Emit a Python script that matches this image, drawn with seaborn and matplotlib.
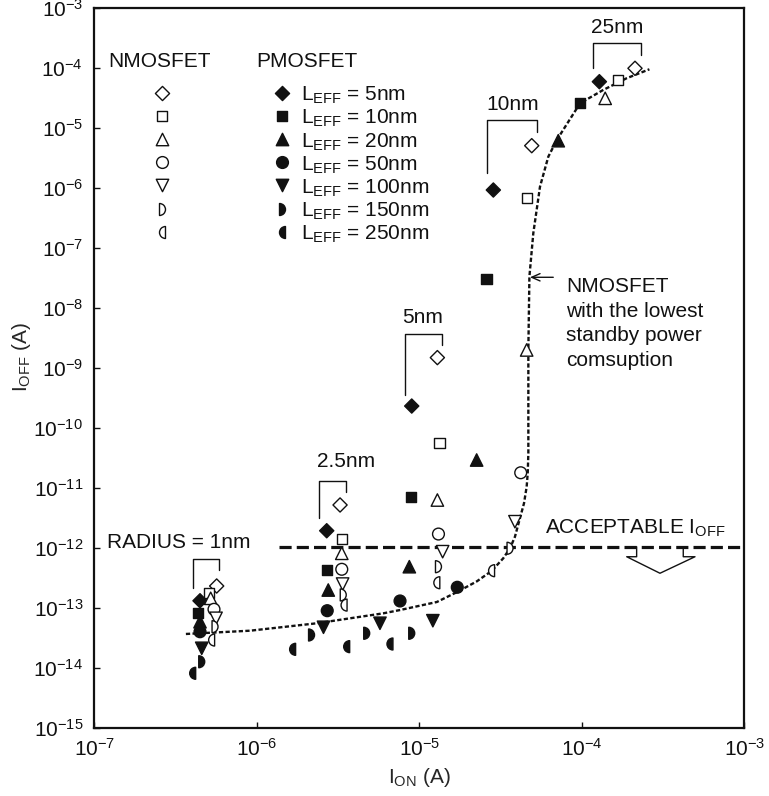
import matplotlib
matplotlib.use("Agg")
import numpy as np
import pandas as pd
import matplotlib.pyplot as plt
import seaborn as sns
from matplotlib.path import Path
from matplotlib.markers import MarkerStyle
from matplotlib.ticker import NullLocator, FixedLocator

# ---------------- data ----------------
L_EFF = [5, 10, 20, 50, 100, 150, 250]          # nm
RADII = ["1nm", "2.5nm", "5nm", "10nm", "25nm"]

r1_nmos_ion = [5.66e-7, 5.10e-7, 5.20e-7, 5.45e-7, 5.61e-7, 5.53e-7, 5.27e-7]
r1_nmos_ioff = [2.31e-13, 1.75e-13, 1.44e-13, 9.44e-14, 6.68e-14, 4.84e-14, 2.90e-14]
r1_pmos_ion = [4.47e-7, 4.36e-7, 4.47e-7, 4.47e-7, 4.58e-7, 4.58e-7, 4.03e-7]
r1_pmos_ioff = [1.31e-13, 8.28e-14, 5.86e-14, 3.99e-14, 2.11e-14, 1.26e-14, 8.09e-15]

r2_nmos_ion = [3.25e-6, 3.33e-6, 3.33e-6, 3.33e-6, 3.37e-6, 3.40e-6, 3.44e-6]
r2_nmos_ioff = [5.19e-12, 1.39e-12, 8.11e-13, 4.39e-13, 2.49e-13, 1.64e-13, 1.11e-13]
r2_pmos_ion = [2.69e-6, 2.71e-6, 2.75e-6, 2.71e-6, 2.57e-6, 2.17e-6, 1.66e-6]
r2_pmos_ioff = [1.93e-12, 4.27e-13, 1.98e-13, 8.95e-14, 4.73e-14, 3.52e-14, 2.03e-14]

r5_nmos_ion = [1.29e-5, 1.33e-5, 1.29e-5, 1.31e-5, 1.39e-5, 1.31e-5, 1.28e-5]
r5_nmos_ioff = [1.49e-9, 5.55e-11, 6.28e-12, 1.70e-12, 8.63e-13, 4.85e-13, 2.62e-13]
r5_pmos_ion = [8.97e-6, 8.84e-6, 8.67e-6, 7.60e-6, 5.72e-6, 4.74e-6, 3.57e-6]
r5_pmos_ioff = [2.32e-10, 7.13e-12, 4.85e-13, 1.30e-13, 5.52e-14, 3.76e-14, 2.25e-14]

r10_nmos_ion = [4.91e-5, 4.61e-5, 4.57e-5, 4.20e-5, 3.87e-5, 3.61e-5, 2.78e-5]
r10_nmos_ioff = [5.11e-6, 6.93e-7, 2.0e-9, 1.79e-11, 2.73e-12, 9.84e-13, 4.16e-13]
r10_pmos_ion = [2.85e-5, 2.59e-5, 2.25e-5, 1.71e-5, 1.21e-5, 8.97e-6, 6.59e-6]
r10_pmos_ioff = [9.31e-7, 3.02e-8, 2.92e-11, 2.20e-13, 6.09e-14, 3.76e-14, 2.49e-14]

r25_nmos_ion = [2.12e-4, 1.67e-4, 1.39e-4]
r25_nmos_ioff = [9.98e-5, 6.37e-5, 3.15e-5]
r25_pmos_ion = [1.28e-4, 9.73e-5, 7.15e-5]
r25_pmos_ioff = [5.97e-5, 2.60e-5, 6.19e-6]

# NMOSFET with the lowest standby power consumption (dotted curve)
curve_ion = [3.66e-7, 9.08e-7, 2.34e-6, 6.00e-6, 7.60e-6, 1.28e-5, 1.71e-5, 2.25e-5,
             2.78e-5, 3.28e-5, 3.61e-5, 3.87e-5, 4.10e-5, 4.40e-5, 4.57e-5, 4.64e-5,
             4.68e-5, 4.68e-5, 4.68e-5, 4.75e-5, 5.02e-5, 5.52e-5, 6.21e-5, 7.00e-5,
             9.73e-5, 1.35e-4, 1.88e-4, 2.60e-4]
curve_ioff = [3.66e-14, 4.15e-14, 5.52e-14, 8.09e-14, 9.18e-14, 1.25e-13, 1.84e-13, 2.75e-13,
              4.11e-13, 6.70e-13, 9.84e-13, 1.53e-12, 2.73e-12, 5.53e-12, 1.05e-11, 1.79e-11,
              3.78e-11, 1.36e-10, 2.0e-9, 3.33e-8, 1.77e-7, 1.06e-6, 3.35e-6, 6.35e-6,
              2.60e-5, 4.34e-5, 6.80e-5, 9.61e-5]

ACCEPTABLE_IOFF = 1.05e-12
ACCEPT_LINE_START = 1.36e-6

# bracket annotations: radius label, x-left, x-right, y-top, y-left-bottom, y-right-bottom
bracket_labels = ["RADIUS = 1nm", "2.5nm", "5nm", "10nm", "25nm"]
bracket_xl = [4.03e-7, 2.41e-6, 8.15e-6, 2.62e-5, 1.17e-4]
bracket_xr = [5.88e-7, 3.54e-6, 1.37e-5, 5.31e-5, 2.30e-4]
bracket_top = [6.44e-13, 1.32e-11, 3.69e-9, 1.37e-5, 2.67e-4]
bracket_lb = [2.11e-13, 3.15e-12, 3.55e-10, 1.79e-6, 9.98e-5]
bracket_rb = [4.27e-13, 8.65e-12, 2.42e-9, 8.74e-6, 1.66e-4]
label_x = [9.08e-7, 3.52e-6, 1.05e-5, 3.73e-5, 1.64e-4]
label_y = [9.84e-13, 2.26e-11, 5.57e-9, 2.01e-5, 3.83e-4]

# ---------------- build table ----------------
groups = {
    "1nm": (r1_nmos_ion, r1_nmos_ioff, r1_pmos_ion, r1_pmos_ioff),
    "2.5nm": (r2_nmos_ion, r2_nmos_ioff, r2_pmos_ion, r2_pmos_ioff),
    "5nm": (r5_nmos_ion, r5_nmos_ioff, r5_pmos_ion, r5_pmos_ioff),
    "10nm": (r10_nmos_ion, r10_nmos_ioff, r10_pmos_ion, r10_pmos_ioff),
    "25nm": (r25_nmos_ion, r25_nmos_ioff, r25_pmos_ion, r25_pmos_ioff),
}
rows = []
for rad, (ni, no, pi, po) in groups.items():
    for L, a, b in zip(L_EFF, ni, no):
        rows.append(dict(radius=rad, device="NMOSFET", L=L, ion=a, ioff=b))
    for L, a, b in zip(L_EFF, pi, po):
        rows.append(dict(radius=rad, device="PMOSFET", L=L, ion=a, ioff=b))
df = pd.DataFrame(rows)
curve_df = pd.DataFrame({"ion": curve_ion, "ioff": curve_ioff})

# ---------------- style ----------------
sns.set_theme(style="white")
plt.rcParams.update({
    "font.family": ["Liberation Sans", "DejaVu Sans"],
    "mathtext.fontset": "custom",
    "mathtext.rm": "Liberation Sans",
    "mathtext.it": "Liberation Sans:italic",
    "mathtext.bf": "Liberation Sans:bold",
    "mathtext.default": "regular",
    "axes.edgecolor": "#111111",
    "text.color": "#111111",
    "xtick.color": "#111111",
    "ytick.color": "#111111",
})
FS = 15


def half_circle(side):
    arc = Path.arc(-90, 90)
    v = np.vstack([arc.vertices, [0.0, 0.0]])
    codes = list(arc.codes) + [Path.CLOSEPOLY]
    v[:, 0] -= 0.5
    if side == "left":
        v[:, 0] *= -1
    return Path(v, codes)


markers = {5: "D", 10: "s", 20: "^", 50: "o", 100: "v",
           150: MarkerStyle(half_circle("right")),
           250: MarkerStyle(half_circle("left"))}
sizes = {5: 52, 10: 54, 20: 80, 50: 72, 100: 80, 150: 74, 250: 74}

fig = plt.figure(figsize=(7.69, 7.96), dpi=100)
ax = fig.add_axes([0.12263, 0.08580, 0.84551, 0.90377])
ax.set_xscale("log")
ax.set_yscale("log")

# curve and acceptable line
sns.lineplot(data=curve_df, x="ion", y="ioff", sort=False, estimator=None, ax=ax,
             color="#111111", lw=1.7, linestyle=(0, (1.8, 1.0)), zorder=2)
ax.hlines(ACCEPTABLE_IOFF, ACCEPT_LINE_START, 1e-3, colors="#111111",
          linewidth=2.3, linestyles=(0, (3.8, 1.6)), zorder=2, clip_on=False)

common = dict(x="ion", y="ioff", style="L", size="L", markers=markers, sizes=sizes,
              legend=False, ax=ax, linewidth=1.0)
sns.scatterplot(data=df[df.device == "PMOSFET"], color="#111111", edgecolor="#111111",
                zorder=3, **common)
sns.scatterplot(data=df[df.device == "NMOSFET"], color="white", edgecolor="#111111",
                zorder=4, **common)

# brackets
for lab, xl, xr, yt, ylb, yrb, tx, ty in zip(bracket_labels, bracket_xl, bracket_xr,
                                              bracket_top, bracket_lb, bracket_rb,
                                              label_x, label_y):
    ax.plot([xl, xl, xr, xr], [ylb, yt, yt, yrb], color="#111111", lw=1.0, zorder=3)
    ha = "right" if lab.startswith("RADIUS") else "center"
    ax.text(tx, ty, lab, ha=ha, va="baseline", fontsize=FS)

# acceptable I_OFF label and down arrow
ax.text(5.93e-5, 1.73e-12, "ACCEPTABLE I$_{OFF}$", ha="left", va="baseline", fontsize=FS)
arrow_x = [2.17e-4, 2.17e-4, 1.885e-4, 3.02e-4, 4.96e-4, 4.20e-4, 4.20e-4]
arrow_y = [1.045e-12, 7.11e-13, 7.11e-13, 3.77e-13, 7.11e-13, 7.11e-13, 1.045e-12]
ax.plot(arrow_x, arrow_y, color="#111111", lw=1.0, zorder=3)

# curve annotation
ax.annotate("", xy=(4.79e-5, 3.26e-8), xytext=(6.66e-5, 3.26e-8),
            arrowprops=dict(arrowstyle="->,head_length=0.5,head_width=0.22",
                            lw=1.0, color="#111111", shrinkA=0, shrinkB=0))
for txt, yy in zip(["NMOSFET", "with the lowest", "standby power", "comsuption"],
                   [1.87e-8, 7.18e-9, 2.77e-9, 1.07e-9]):
    ax.text(7.98e-5, yy, txt, ha="left", va="baseline", fontsize=FS)


# ---------------- manual legend (axes fraction) ----------------
def axx(px):
    return (px - 94.3) / 650.2


def axy(py):
    return (727.7 - py) / 719.4


ax.text(axx(108.3), axy(66.7), "NMOSFET", transform=ax.transAxes, fontsize=FS,
        ha="left", va="baseline")
ax.text(axx(256), axy(66.7), "PMOSFET", transform=ax.transAxes, fontsize=FS,
        ha="left", va="baseline")
for i, L in enumerate(L_EFF):
    ry = 93.0 + 23.1 * i
    ax.scatter([axx(161.7)], [axy(ry)], marker=markers[L], s=sizes[L], facecolor="white",
               edgecolor="#111111", linewidth=1.0, transform=ax.transAxes, clip_on=False,
               zorder=5)
    ax.scatter([axx(282.3)], [axy(ry)], marker=markers[L], s=sizes[L], facecolor="#111111",
               edgecolor="#111111", linewidth=1.0, transform=ax.transAxes, clip_on=False,
               zorder=5)
    ax.text(axx(300.7), axy(ry + 8.0), f"L$_{{EFF}}$ = {L}nm", transform=ax.transAxes,
            fontsize=FS, ha="left", va="baseline")

# ---------------- axes ----------------
ax.set_xlim(1e-7, 1e-3)
ax.set_ylim(1e-15, 1e-3)
ax.xaxis.set_major_locator(FixedLocator([10.0 ** k for k in range(-7, -2)]))
ax.yaxis.set_major_locator(FixedLocator([10.0 ** k for k in range(-15, -2)]))
ax.xaxis.set_minor_locator(NullLocator())
ax.yaxis.set_minor_locator(NullLocator())
ax.tick_params(axis="both", which="major", direction="in", length=4, width=1.0,
               labelsize=FS, top=False, right=False, bottom=True, left=True)
ax.tick_params(axis="x", pad=7)
ax.tick_params(axis="y", pad=8)
for sp in ax.spines.values():
    sp.set_linewidth(1.6)
    sp.set_color("#111111")

ax.set_xlabel("I$_{ON}$ (A)", fontsize=FS)
ax.set_ylabel("I$_{OFF}$ (A)", fontsize=FS)
ax.xaxis.set_label_coords(0.4994, -0.053)
ax.yaxis.set_label_coords(-0.094, 0.515)

fig.savefig("out.png", dpi=100)
